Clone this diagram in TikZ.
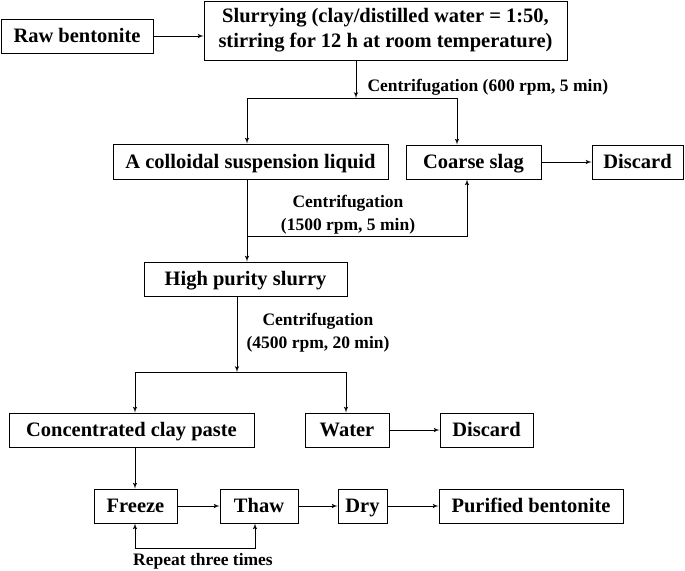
\documentclass[tikz,border=0pt]{standalone}
\usepackage{fontspec}
\setmainfont{Liberation Serif}
\usetikzlibrary{arrows,positioning}

\begin{document}
\begin{tikzpicture}[
    x=1pt,
    y=-1pt,
    >=latex',
    line width=1pt,
    box/.style={
		rectangle,
		draw=black,
		text centered,
		inner sep=0pt,
		text height=16pt,
		text depth=3pt,
		minimum height=34pt,
		font=\fontsize{20.5}{25}\selectfont\bfseries
	},
	note/.style={
		align=center,
		inner sep=0pt,
		font=\fontsize{17.5}{23}\selectfont\bfseries
	}
  ]
\useasboundingbox (0,0) rectangle (685,570);

% // raw material and slurrying
\node [box, minimum width=152pt] (raw) at (77,36) {Raw bentonite};
\node [box, text height=, text depth=, minimum width=363pt, minimum height=59pt, align=center] (slurry) at (385.5,30.5)
 {Slurrying (clay/distilled water = 1:50,\\stirring for 12 h at room temperature)};
\draw [->] (raw.east) -- (raw.east -| slurry.west);

% // first centrifugation
\node [box, minimum width=275pt, minimum height=35pt] (colloid) at (250.5,161.5) {A colloidal suspension liquid};
\node [box, minimum width=135pt] (slag) at (473.5,162) {Coarse slag};
\node [box, minimum width=91pt, right of=slag, node distance=164pt] (discard1) {Discard};

\coordinate (c1) at (356,98);
\coordinate (c1l) at (247,98);
\coordinate (c1r) at (457,98);
\draw [->] (c1 |- slurry.south) -- (c1);
\draw (c1l) -- (c1r);
\draw [->] (c1l) -- (c1l |- colloid.north);
\draw [->] (c1r) -- (c1r |- slag.north);
\node [note, anchor=west] (lab1) at (367,87) {Centrifugation (600 rpm, 5 min)};
\draw [->] (slag) -- (discard1);

% // second centrifugation
\node [box, minimum width=203pt] (pure) at (245.5,279) {High purity slurry};
\coordinate (c2) at (247,236);
\coordinate (c2r) at (467,236);
\draw [->] (c2 |- colloid.south) -- (c2 |- pure.north);
\draw [->] (c2) -- (c2r) -- (c2r |- slag.south);
\node [note] (lab2) at (348,215) {Centrifugation\\(1500 rpm, 5 min)};

% // third centrifugation
\node [box, minimum width=245pt] (paste) at (131.5,430) {Concentrated clay paste};
\node [box, minimum width=84pt] (water) at (347,430) {Water};
\node [box, minimum width=93pt, right of=water, node distance=139.5pt] (discard2) {Discard};

\coordinate (c3) at (237,372);
\coordinate (c3l) at (135,372);
\coordinate (c3r) at (346,372);
\draw [->] (c3 |- pure.south) -- (c3);
\draw (c3l) -- (c3r);
\draw [->] (c3l) -- (c3l |- paste.north);
\draw [->] (c3r) -- (c3r |- water.north);
\node [note] (lab3) at (318,333) {Centrifugation\\(4500 rpm, 20 min)};
\draw [->] (water) -- (discard2);

% // freeze-thaw cycles
\node [box, minimum width=83pt] (freeze) at (135.5,506) {Freeze};
\node [box, minimum width=78pt, right of=freeze, node distance=123.5pt] (thaw) {Thaw};
\node [box, minimum width=49pt, right of=thaw, node distance=103.5pt] (dry) {Dry};
\node [box, minimum width=184pt, right of=dry, node distance=168.5pt] (product) {Purified bentonite};

\draw [->] (c3l |- paste.south) -- (c3l |- freeze.north);
\draw [->] (freeze) -- (thaw);
\draw [->] (thaw) -- (dry);
\draw [->] (dry) -- (product);

\coordinate (c4l) at (135,548);
\coordinate (c4r) at (255,548);
\draw [<->] (c4l |- freeze.south) -- (c4l) -- (c4r) -- (c4r |- thaw.south);
\node [note] (lab4) at (203,561) {Repeat three times};

\end{tikzpicture}
\end{document}
